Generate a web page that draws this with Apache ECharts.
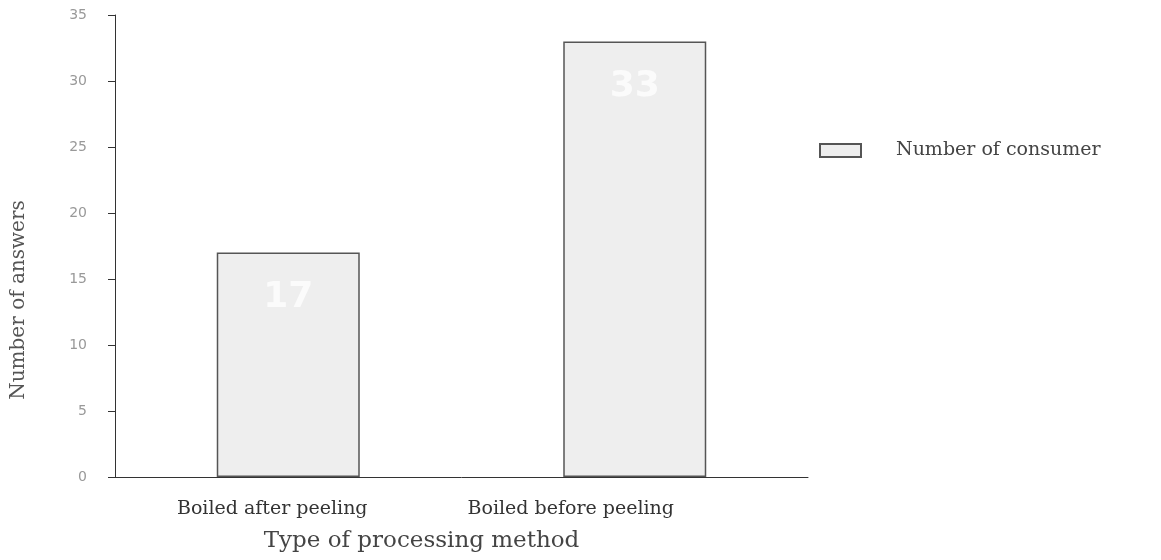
<!DOCTYPE html>
<html>
<head>
<meta charset="utf-8">
<script src="https://cdn.jsdelivr.net/npm/echarts@6/dist/echarts.min.js"></script>
<style>html,body{margin:0;padding:0;background:#fff}#c{width:1161px;height:560px}</style>
</head>
<body>
<div id="c"></div>
<script>
const categories = ["Boiled after peeling", "Boiled before peeling"];
const values = [17, 33];
const seriesName = "Number of consumer";
const xTitle = "Type of processing method";
const yTitle = "Number of answers";

const labelFont = {fontFamily: 'DejaVu Serif', fontSize: 19, color: '#333'};
const chart = echarts.init(document.getElementById('c'), null, {renderer: 'canvas'});
chart.setOption({
  animation: false,
  backgroundColor: '#ffffff',
  grid: {left: 115, right: 353, top: 15, bottom: 83},
  legend: {
    left: 814, top: 136, orient: 'vertical', icon: 'rect',
    itemWidth: 41, itemHeight: 13,
    data: [seriesName],
    textStyle: {fontFamily: 'DejaVu Serif', fontSize: 19, color: '#444', padding: [0, 0, 0, 30]}
  },
  xAxis: {
    type: 'category', data: categories,
    name: xTitle, nameLocation: 'middle', nameGap: 53,
    nameTextStyle: {fontFamily: 'DejaVu Serif', fontSize: 23, color: '#444', padding: [0, 80, 0, 0]},
    axisLine: {lineStyle: {color: '#333', width: 1}},
    axisTick: {show: false},
    axisLabel: {
      margin: 23,
      formatter: (v, i) => (i === 0 ? '{a|' : '{b|') + v + '}',
      rich: {
        a: Object.assign({padding: [0, 32, 0, 0]}, labelFont),
        b: Object.assign({padding: [0, 128, 0, 0]}, labelFont)
      }
    }
  },
  yAxis: {
    type: 'value', min: 0, max: 35, interval: 5,
    name: yTitle, nameLocation: 'middle', nameGap: 86,
    nameTextStyle: {fontFamily: 'DejaVu Serif', fontSize: 20, color: '#555', padding: [0, 108, 0, 0]},
    axisLine: {show: true, lineStyle: {color: '#333', width: 1}},
    axisTick: {show: true, length: 7, lineStyle: {color: '#333'}},
    axisLabel: {fontFamily: 'DejaVu Sans', fontSize: 14, color: '#999', margin: 28},
    splitLine: {show: false}
  },
  series: [{
    name: seriesName, type: 'bar', data: values, barWidth: 143,
    itemStyle: {color: '#eeeeee', borderColor: '#555', borderWidth: 1.5},
    label: {show: true, position: 'insideTop', distance: 27, color: '#fbfbfb',
      fontFamily: 'DejaVu Sans', fontWeight: 'bold', fontSize: 36}
  }]
});
</script>
</body>
</html>
